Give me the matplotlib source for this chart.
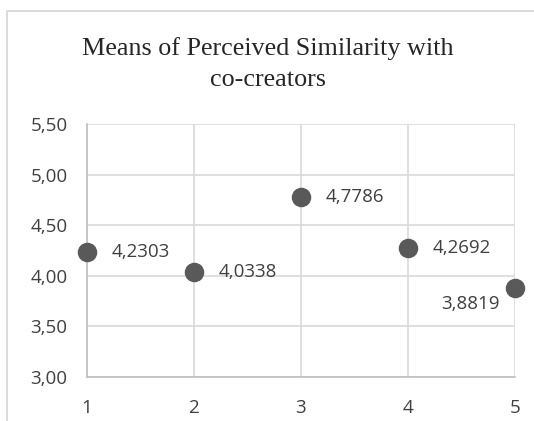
import numpy as np
import matplotlib.pyplot as plt
from matplotlib.patches import Rectangle

# data
x = [1, 2, 3, 4, 5]
means = [4.2303, 4.0338, 4.7786, 4.2692, 3.8819]
labels = ["4,2303", "4,0338", "4,7786", "4,2692", "3,8819"]
yticks = [3.0, 3.5, 4.0, 4.5, 5.0, 5.5]
ytick_labels = ["3,00", "3,50", "4,00", "4,50", "5,00", "5,50"]

fig = plt.figure(figsize=(5.34, 4.21), dpi=100)
ax = fig.add_axes([87 / 534, 1 - 376.7 / 421, (514.7 - 87) / 534, (376.7 - 124) / 421])

# outer chart border (cropped on right and bottom)
fig.patches.append(Rectangle((7 / 534, -0.1), 1.2, 1 - 11 / 421 + 0.1,
                             transform=fig.transFigure, fill=False,
                             edgecolor="#d9d9d9", linewidth=1.3))

ax.scatter(x, means, s=170, color="#595959", zorder=3, clip_on=False)

lab_font = "Open Sans"
fs = 13.5
for xi, yi, lab in zip(x, means, labels):
    if xi == 5:
        ax.annotate(lab, (xi, yi), xytext=(-11, -5), textcoords="offset points",
                    ha="right", va="top", fontsize=fs, color="#404040",
                    family=lab_font)
    else:
        ax.annotate(lab, (xi, yi), xytext=(18, 0), textcoords="offset points",
                    ha="left", va="center", fontsize=fs, color="#404040",
                    family=lab_font)

ax.set_xlim(1, 5)
ax.set_ylim(3, 5.5)
ax.set_xticks(x)
ax.set_xticklabels([str(v) for v in x], family=lab_font, fontsize=fs, color="#404040")
ax.set_yticks(yticks)
ax.set_yticklabels(ytick_labels, family=lab_font, fontsize=fs, color="#404040")
ax.tick_params(axis="x", length=0, pad=16)
ax.tick_params(axis="y", length=0, pad=14)
ax.grid(True, color="#d9d9d9", linewidth=1.2)
ax.set_axisbelow(True)
for s in ["top", "right"]:
    ax.spines[s].set_visible(False)
for s in ["left", "bottom"]:
    ax.spines[s].set_color("#bfbfbf")
    ax.spines[s].set_linewidth(1.2)

fig.text(268 / 534, 1 - 64 / 421, "Means of Perceived Similarity with\nco-creators",
         ha="center", va="center", family="Liberation Serif", fontsize=18.8,
         color="#262626", linespacing=1.5)

fig.savefig("out.png", dpi=100)
